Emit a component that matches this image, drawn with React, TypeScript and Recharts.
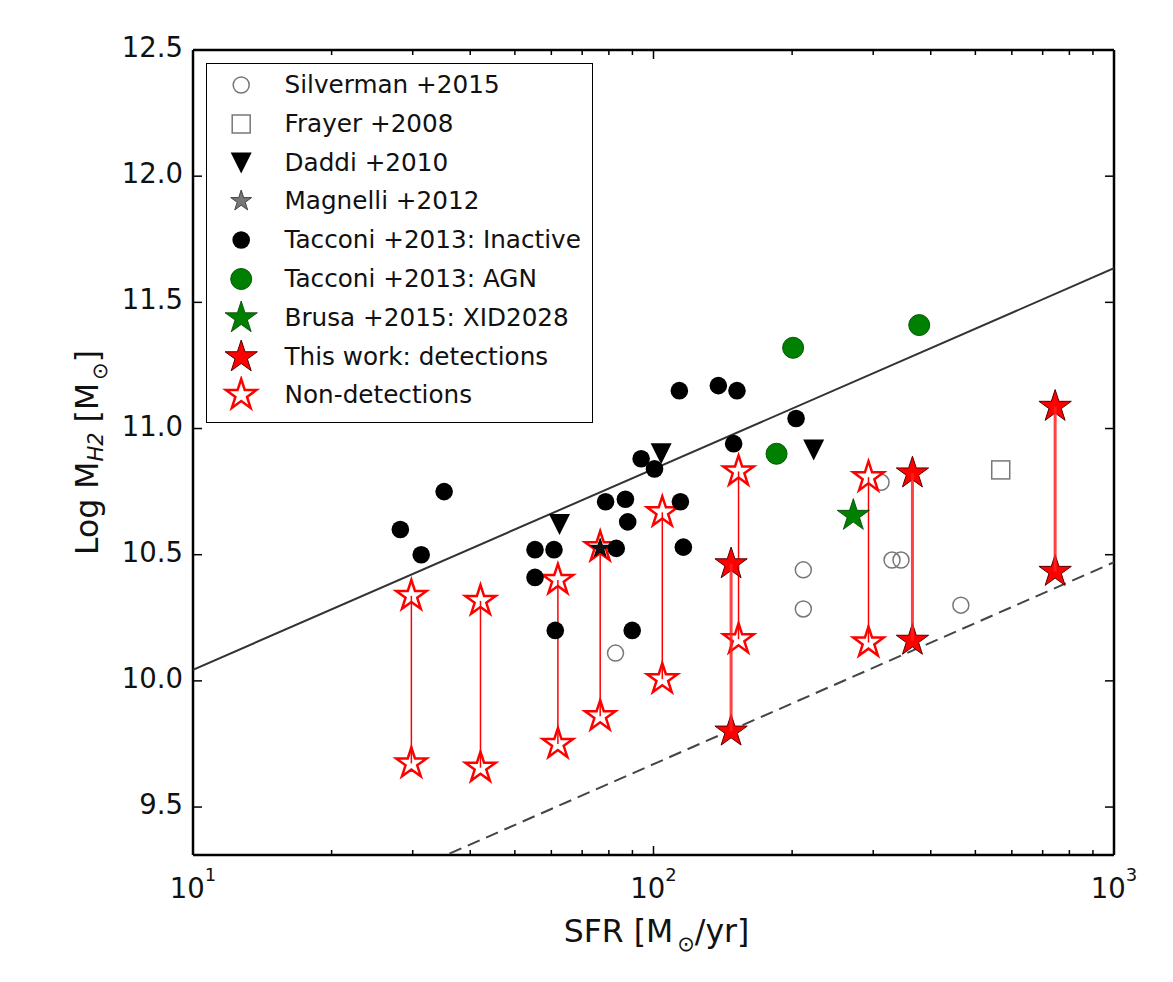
import { ComposedChart, Scatter, XAxis, YAxis, Legend } from "recharts"

// Silverman +2015
const silvermanSfr = [82.7, 211.5, 211.5, 312, 329.6, 344.7, 465]
const silvermanMass = [10.11, 10.44, 10.285, 10.787, 10.479, 10.479, 10.3]

// Frayer +2008
const frayerSfr = [567.6]
const frayerMass = [10.836]

// Daddi +2010
const daddiSfr = [62.5, 103.9, 222.8]
const daddiMass = [10.62, 10.9, 10.915]

// Magnelli +2012
const magnelliSfr = [76.6]
const magnelliMass = [10.525]

// Tacconi +2013: Inactive
const inactiveSfr = [28.2, 31.3, 35.1, 55.3, 60.8, 55.3, 61.2, 78.7, 86.9, 87.9, 83, 89.9, 94, 100.5, 113.8, 138.3, 151.8, 204, 149.3, 114.4, 116.1]
const inactiveMass = [10.6, 10.5, 10.75, 10.52, 10.52, 10.41, 10.2, 10.71, 10.72, 10.63, 10.525, 10.2, 10.88, 10.84, 11.15, 11.17, 11.15, 11.04, 10.94, 10.71, 10.53]

// Tacconi +2013: AGN
const agnSfr = [185, 201, 377.6]
const agnMass = [10.9, 11.32, 11.41]

// Brusa +2015: XID2028
const brusaSfr = [271.6]
const brusaMass = [10.655]

// This work: detections (upper / lower estimate)
const detSfr = [147.4, 365, 745]
const detHigh = [10.463, 10.823, 11.087]
const detLow = [9.8, 10.16, 10.433]

// This work: non-detections
const nonDetSfr = [29.8, 42.1, 62, 76.6, 104.5, 153, 293]
const nonDetHigh = [10.337, 10.317, 10.4, 10.53, 10.668, 10.83, 10.807]
const nonDetLow = [9.673, 9.656, 9.75, 9.86, 10.007, 10.165, 10.152]

// relations (end points)
const relationSfr = [10, 1000]
const solidMass = [10.044, 11.635]
const dashedMass = [8.87, 10.47]

const xTicks = [10, 20, 30, 40, 50, 60, 70, 80, 90, 100, 200, 300, 400, 500, 600, 700, 800, 900, 1000]
const xMajor = [10, 100, 1000]
const yTicks = [9.5, 10, 10.5, 11, 11.5, 12, 12.5]

const FONT = '"DejaVu Sans", sans-serif'

const pts = (sfr: number[], mass: number[]) => sfr.map((s, i) => ({ sfr: s, mass: mass[i] }))

type Kind = "silverman" | "frayer" | "daddi" | "magnelli" | "magnelliPlot" | "inactive" | "agn" | "brusa" | "det" | "nondet"

const starPath = (cx: number, cy: number, R: number) => {
  let d = ""
  for (let i = 0; i < 10; i++) {
    const r = i % 2 === 0 ? R : R * 0.382
    const a = -Math.PI / 2 + (i * Math.PI) / 5
    d += (i === 0 ? "M" : "L") + (cx + r * Math.cos(a)).toFixed(2) + "," + (cy + r * Math.sin(a)).toFixed(2)
  }
  return d + "Z"
}

function Marker({ kind, cx, cy }: { kind: Kind; cx: number; cy: number }) {
  switch (kind) {
    case "silverman":
      return <circle cx={cx} cy={cy} r={8} fill="none" stroke="#777" strokeWidth={1.5} />
    case "frayer":
      return <rect x={cx - 9} y={cy - 9} width={18} height={18} fill="none" stroke="#777" strokeWidth={1.5} />
    case "daddi":
      return <path d={`M${cx - 10.5},${cy - 10.5}L${cx + 10.5},${cy - 10.5}L${cx},${cy + 10.5}Z`} fill="#000" />
    case "magnelli":
      return <path d={starPath(cx, cy, 11)} fill="#777" stroke="#444" strokeWidth={1} />
    case "magnelliPlot":
      return <path d={starPath(cx, cy, 10)} fill="#111" stroke="#000" strokeWidth={1} />
    case "inactive":
      return <circle cx={cx} cy={cy} r={8.8} fill="#000" />
    case "agn":
      return <circle cx={cx} cy={cy} r={10.5} fill="#008000" stroke="#005a00" strokeWidth={1} />
    case "brusa":
      return <path d={starPath(cx, cy, 17)} fill="#008000" stroke="#004000" strokeWidth={0.8} />
    case "det":
      return <path d={starPath(cx, cy, 17)} fill="#ff0000" stroke="#550000" strokeWidth={1} />
    case "nondet":
      return <path d={starPath(cx, cy, 16)} fill="#fff" stroke="#ff0000" strokeWidth={2.5} strokeLinejoin="miter" />
  }
  return null
}

const shapeOf = (kind: Kind) => (p: any) => <Marker kind={kind} cx={p.cx} cy={p.cy} />
const noShape = () => <g />

const legendItems: { label: string; kind: Kind }[] = [
  { label: "Silverman +2015", kind: "silverman" },
  { label: "Frayer +2008", kind: "frayer" },
  { label: "Daddi +2010", kind: "daddi" },
  { label: "Magnelli +2012", kind: "magnelli" },
  { label: "Tacconi +2013: Inactive", kind: "inactive" },
  { label: "Tacconi +2013: AGN", kind: "agn" },
  { label: "Brusa +2015: XID2028", kind: "brusa" },
  { label: "This work: detections", kind: "det" },
  { label: "Non-detections", kind: "nondet" },
]

function LegendBox() {
  return (
    <div
      style={{
        position: "relative",
        width: 387,
        height: 360,
        boxSizing: "border-box",
        border: "1.5px solid #000",
        background: "#fff",
        fontFamily: FONT,
        fontSize: 24.7,
        color: "#111",
      }}
    >
      {legendItems.map((it, i) => (
        <div
          key={it.label}
          style={{ position: "absolute", left: 0, top: 2 + i * 38.8, height: 38, display: "flex", alignItems: "center" }}
        >
          <svg width={70} height={38}>
            <Marker kind={it.kind} cx={34.2} cy={19} />
          </svg>
          <span style={{ marginLeft: 7.5, whiteSpace: "nowrap", lineHeight: "38px" }}>{it.label}</span>
        </div>
      ))}
    </div>
  )
}

// ticks point inward, matplotlib style
function BottomTick(props: any) {
  const { x, y, payload } = props
  const v = payload.value
  const major = xMajor.includes(v)
  return (
    <g>
      <line x1={x} x2={x} y1={y} y2={y - (major ? 9 : 5)} stroke="#000" strokeWidth={1.5} />
      {major && (
        <text x={x} y={y + 43} textAnchor="middle" fontSize={27.5} fontFamily={FONT} fill="#111">
          10
          <tspan dy={-17} fontSize={18}>
            {Math.round(Math.log10(v))}
          </tspan>
        </text>
      )}
    </g>
  )
}

function TopTick(props: any) {
  const { x, y, payload } = props
  const major = xMajor.includes(payload.value)
  return <line x1={x} x2={x} y1={y} y2={y + (major ? 9 : 5)} stroke="#000" strokeWidth={1.5} />
}

function LeftTick(props: any) {
  const { x, y, payload } = props
  return (
    <g>
      <line x1={x} x2={x + 9} y1={y} y2={y} stroke="#000" strokeWidth={1.5} />
      <text x={x - 10} y={y + 7} textAnchor="end" fontSize={27.5} fontFamily={FONT} fill="#111">
        {Number(payload.value).toFixed(1)}
      </text>
    </g>
  )
}

function RightTick(props: any) {
  const { x, y } = props
  return <line x1={x} x2={x - 9} y1={y} y2={y} stroke="#000" strokeWidth={1.5} />
}

function XLabel({ viewBox }: any) {
  const cx = viewBox.x + viewBox.width / 2 + 3
  return (
    <text x={cx} y={viewBox.y + 87} textAnchor="middle" fontSize={31.5} fontFamily={FONT} fill="#111">
      SFR [M
      <tspan dx={4} dy={9} fontSize={21}>
        ⊙
      </tspan>
      <tspan dy={-9}>/yr]</tspan>
    </text>
  )
}

function YLabel({ viewBox }: any) {
  const x = viewBox.x + 5
  const cy = viewBox.y + viewBox.height / 2
  return (
    <text transform={`translate(${x},${cy}) rotate(-90)`} textAnchor="middle" fontSize={31.5} fontFamily={FONT} fill="#111">
      Log M
      <tspan dy={5} fontSize={21} fontStyle="italic">
        H2
      </tspan>
      <tspan dy={-5}> [M</tspan>
      <tspan dx={3} dy={9} fontSize={21}>
        ⊙
      </tspan>
      <tspan dy={-9}>]</tspan>
    </text>
  )
}

const frame = { stroke: "#000", strokeWidth: 2.5 }

export default function App() {
  return (
    <ComposedChart width={1160} height={970} margin={{ top: 41, right: 53, bottom: 63, left: 85 }}>
      <XAxis
        xAxisId="main"
        dataKey="sfr"
        type="number"
        scale="log"
        domain={[10, 1000]}
        allowDataOverflow
        ticks={xTicks}
        interval={0}
        tickSize={0}
        tickMargin={0}
        tickLine={false}
        axisLine={frame}
        height={60}
        tick={(p: any) => <BottomTick {...p} />}
        label={{ content: (p: any) => <XLabel viewBox={p.viewBox} /> }}
      />
      <XAxis
        xAxisId="top"
        orientation="top"
        dataKey="sfr"
        type="number"
        scale="log"
        domain={[10, 1000]}
        allowDataOverflow
        ticks={xTicks}
        interval={0}
        tickSize={0}
        tickMargin={0}
        tickLine={false}
        axisLine={frame}
        height={1}
        tick={(p: any) => <TopTick {...p} />}
      />
      <YAxis
        yAxisId="main"
        dataKey="mass"
        type="number"
        domain={[9.31, 12.5]}
        allowDataOverflow
        ticks={yTicks}
        interval={0}
        tickSize={0}
        tickMargin={0}
        tickLine={false}
        axisLine={frame}
        width={100}
        tick={(p: any) => <LeftTick {...p} />}
        label={{ content: (p: any) => <YLabel viewBox={p.viewBox} /> }}
      />
      <YAxis
        yAxisId="right"
        orientation="right"
        dataKey="mass"
        type="number"
        domain={[9.31, 12.5]}
        allowDataOverflow
        ticks={yTicks}
        interval={0}
        tickSize={0}
        tickMargin={0}
        tickLine={false}
        axisLine={frame}
        width={1}
        tick={(p: any) => <RightTick {...p} />}
      />

      {/* the two relations use the top/right axes (same domains) */}
      <Scatter
        xAxisId="top"
        yAxisId="right"
        data={pts(relationSfr, solidMass)}
        line={{ stroke: "#333", strokeWidth: 2 }}
        shape={noShape}
        legendType="none"
        isAnimationActive={false}
      />
      <Scatter
        xAxisId="top"
        yAxisId="right"
        data={pts(relationSfr, dashedMass)}
        line={{ stroke: "#444", strokeWidth: 2, strokeDasharray: "13 7" }}
        shape={noShape}
        legendType="none"
        isAnimationActive={false}
      />

      <Scatter xAxisId="main" yAxisId="main" name="Silverman +2015" data={pts(silvermanSfr, silvermanMass)} shape={shapeOf("silverman")} isAnimationActive={false} />
      <Scatter xAxisId="main" yAxisId="main" name="Frayer +2008" data={pts(frayerSfr, frayerMass)} shape={shapeOf("frayer")} isAnimationActive={false} />

      {nonDetSfr.map((s, i) => (
        <Scatter
          key={"nd" + i}
          xAxisId="main"
          yAxisId="main"
          data={[{ sfr: s, mass: nonDetHigh[i] }, { sfr: s, mass: nonDetLow[i] }]}
          shape={shapeOf("nondet")}
          legendType="none"
          isAnimationActive={false}
        />
      ))}
      {nonDetSfr.map((s, i) => (
        <Scatter
          key={"ndl" + i}
          xAxisId="main"
          yAxisId="main"
          data={[{ sfr: s, mass: nonDetHigh[i] }, { sfr: s, mass: nonDetLow[i] }]}
          line={{ stroke: "#ff0000", strokeWidth: 1.5 }}
          shape={noShape}
          legendType="none"
          isAnimationActive={false}
        />
      ))}
      {detSfr.map((s, i) => (
        <Scatter
          key={"d" + i}
          xAxisId="main"
          yAxisId="main"
          data={[{ sfr: s, mass: detHigh[i] }, { sfr: s, mass: detLow[i] }]}
          shape={shapeOf("det")}
          legendType="none"
          isAnimationActive={false}
        />
      ))}
      {detSfr.map((s, i) => (
        <Scatter
          key={"dl" + i}
          xAxisId="main"
          yAxisId="main"
          data={[{ sfr: s, mass: detHigh[i] }, { sfr: s, mass: detLow[i] }]}
          line={{ stroke: "#ff2020", strokeWidth: 3, strokeOpacity: 0.85 }}
          shape={noShape}
          legendType="none"
          isAnimationActive={false}
        />
      ))}

      <Scatter xAxisId="main" yAxisId="main" name="Daddi +2010" data={pts(daddiSfr, daddiMass)} shape={shapeOf("daddi")} isAnimationActive={false} />
      <Scatter xAxisId="main" yAxisId="main" name="Magnelli +2012" data={pts(magnelliSfr, magnelliMass)} shape={shapeOf("magnelliPlot")} isAnimationActive={false} />
      <Scatter xAxisId="main" yAxisId="main" name="Tacconi +2013: Inactive" data={pts(inactiveSfr, inactiveMass)} shape={shapeOf("inactive")} isAnimationActive={false} />
      <Scatter xAxisId="main" yAxisId="main" name="Tacconi +2013: AGN" data={pts(agnSfr, agnMass)} shape={shapeOf("agn")} isAnimationActive={false} />
      <Scatter xAxisId="main" yAxisId="main" name="Brusa +2015: XID2028" data={pts(brusaSfr, brusaMass)} shape={shapeOf("brusa")} isAnimationActive={false} />

      <Legend
        layout="vertical"
        align="center"
        verticalAlign="middle"
        content={() => <LegendBox />}
        wrapperStyle={{ left: 198, top: 55, width: 387, height: 360 }}
      />
    </ComposedChart>
  )
}
